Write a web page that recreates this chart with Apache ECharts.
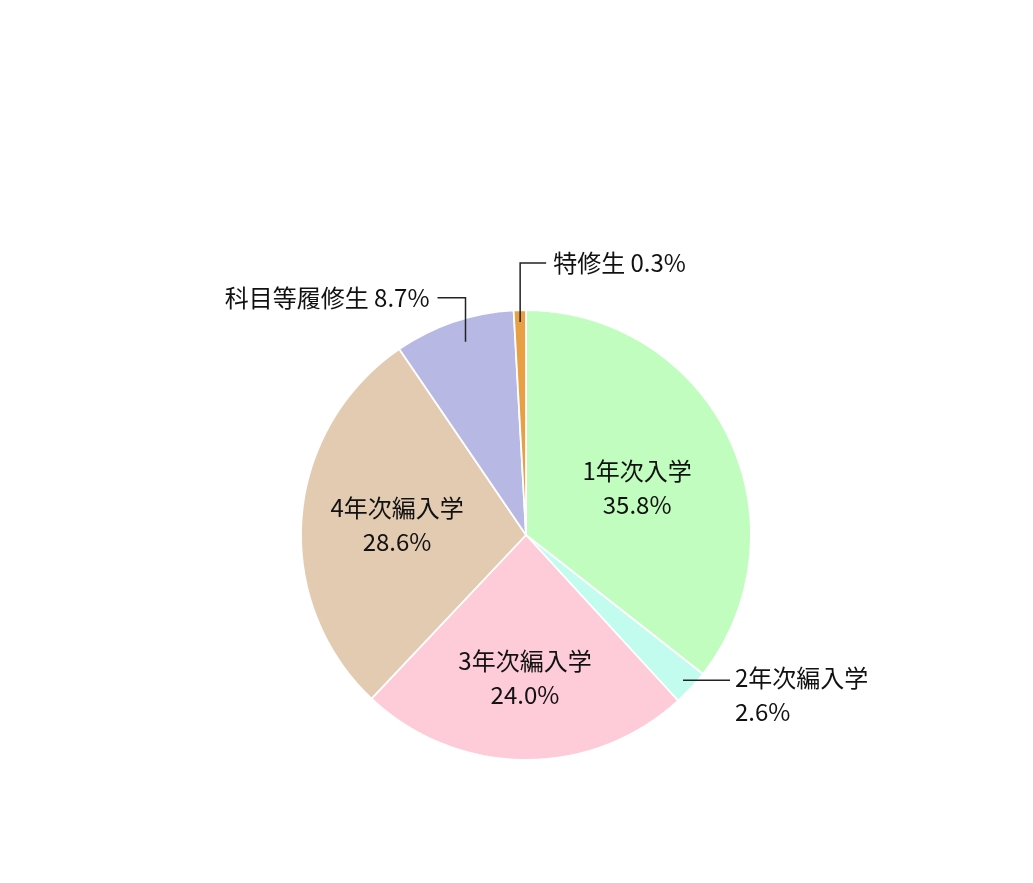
<!DOCTYPE html>
<html><head><meta charset="utf-8">
<script src="https://cdn.jsdelivr.net/npm/echarts@6/dist/echarts.min.js"></script>
<style>html,body{margin:0;padding:0;background:#fff}#c{width:1033px;height:883px}</style>
</head><body><div id="c"></div>
<script>
const categories = ['1年次入学', '2年次編入学', '3年次編入学', '4年次編入学', '科目等履修生', '特修生'];
const percents = [35.8, 2.6, 24.0, 28.6, 8.7, 0.3];
const colors = ['#C0FDBF', '#C2FCEF', '#FECCD9', '#E3CBB2', '#B8B8E4', '#E8A043'];

// layout settings (not data)
const CENTER = [526, 535];
const RADIUS = 225;
const FONT = '"Noto Sans CJK JP", "Noto Sans", sans-serif';
const inside = {0: {f: 1.07, dy: 7}, 2: {f: 1.27, dy: -4}, 3: {f: 1.12, dy: 0}};
const outside = {
  1: {k: 0.951, dx: 0, up: 0, side: 47, gap: 5, oneLine: false},
  4: {k: 0.907, dx: 5, up: 44, side: -28, gap: 8, oneLine: true},
  5: {k: 0.947, dx: 0, up: 59, side: 26, gap: 7, oneLine: true}
};

function buildData(withLabels) {
  return categories.map((name, i) => {
    const item = {name, value: percents[i]};
    item.itemStyle = withLabels ? {color: 'rgba(0,0,0,0)', borderWidth: 0} : {color: colors[i]};
    if (outside[i]) {
      item.label = {position: 'outside'};
      item.labelLine = {show: withLabels, length: 10, length2: 10};
    } else {
      item.label = {position: 'inside'};
      item.labelLine = {show: false};
    }
    return item;
  });
}

const chart = echarts.init(document.getElementById('c'), null, {renderer: 'canvas'});
const common = {
  type: 'pie',
  center: CENTER,
  radius: RADIUS,
  startAngle: 90,
  clockwise: true,
  minAngle: 3.15,
  avoidLabelOverlap: false,
  emphasis: {disabled: true},
  silent: true
};
chart.setOption({
  animation: false,
  backgroundColor: '#fff',
  series: [
    Object.assign({}, common, {
      z: 2,
      data: buildData(false),
      itemStyle: {borderColor: '#fff', borderWidth: 1.8},
      label: {show: false}
    }),
    Object.assign({}, common, {
      z: 5,
      data: buildData(true),
      label: {
        show: true,
        color: '#111',
        fontFamily: FONT,
        fontSize: 24,
        lineHeight: 34,
        formatter: p => {
          const v = p.value.toFixed(1) + '%';
          return (outside[p.dataIndex] && outside[p.dataIndex].oneLine) ? p.name + ' ' + v : p.name + '\n' + v;
        }
      },
      labelLine: {showAbove: true, lineStyle: {color: '#222', width: 1.5}},
      labelLayout: function (params) {
        const i = params.dataIndex;
        const s = inside[i];
        if (s) {
          const r = params.labelRect;
          const lx = r.x + r.width / 2, ly = r.y + r.height / 2;
          return {
            x: CENTER[0] + (lx - CENTER[0]) * s.f,
            y: CENTER[1] + (ly - CENTER[1]) * s.f + s.dy,
            align: 'center', verticalAlign: 'middle'
          };
        }
        const o = outside[i];
        if (o && params.labelLinePoints) {
          const E = params.labelLinePoints[0];
          const P = [CENTER[0] + (E[0] - CENTER[0]) * o.k + o.dx, CENTER[1] + (E[1] - CENTER[1]) * o.k];
          const M = [P[0], P[1] - o.up];
          const Q = [M[0] + o.side, M[1]];
          const right = o.side > 0;
          return {
            x: Q[0] + (right ? o.gap : -o.gap),
            y: o.oneLine ? Q[1] : Q[1] - 19,
            align: right ? 'left' : 'right',
            verticalAlign: o.oneLine ? 'middle' : 'top',
            labelLinePoints: [P, M, Q]
          };
        }
        return {};
      }
    })
  ]
});
</script>
</body></html>
